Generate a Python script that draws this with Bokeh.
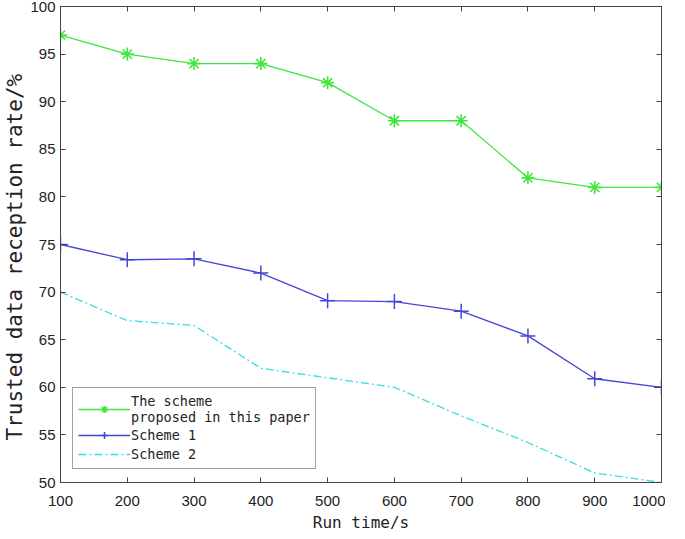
from bokeh.plotting import figure
from bokeh.models import LinearAxis, Legend, LegendItem, Range1d, FixedTicker
from bokeh.embed import file_html
from bokeh.resources import INLINE

run_time = [100, 200, 300, 400, 500, 600, 700, 800, 900, 1000]
proposed = [97, 95, 94, 94, 92, 88, 88, 82, 81, 81]
scheme1 = [75, 73.4, 73.5, 72, 69.1, 69, 68, 65.4, 60.9, 60]
scheme2 = [70, 67, 66.5, 62, 61, 60, 57, 54.2, 51, 50]
x_ticks = [100, 200, 300, 400, 500, 600, 700, 800, 900, 1000]
y_ticks = [50, 55, 60, 65, 70, 75, 80, 85, 90, 95, 100]

GREEN = "#3ee63e"
BLUE = "#4646d6"
CYAN = "#40dbe0"
MONO = "DejaVu Sans Mono"
SANS = "Liberation Sans"

p = figure(frame_width=601, frame_height=476, output_backend="svg", toolbar_location=None,
           x_range=Range1d(100, 1000), y_range=Range1d(50, 100),
           min_border_left=55, min_border_right=4, min_border_top=6, min_border_bottom=46)
p.background_fill_color = "white"
p.border_fill_color = "white"
p.outline_line_color = "#444444"
p.outline_line_width = 1
p.xgrid.visible = False
p.ygrid.visible = False

for ax in (p.xaxis[0], p.yaxis[0]):
    ax.major_tick_in = 5
    ax.major_tick_out = 0
    ax.minor_tick_in = 0
    ax.minor_tick_out = 0
    ax.axis_line_color = "#444444"
    ax.major_tick_line_color = "#444444"
    ax.major_label_text_font = SANS
    ax.major_label_text_font_size = "15px"
    ax.major_label_text_color = "#222222"
    ax.axis_label_text_font = MONO
    ax.axis_label_text_font_style = "normal"
    ax.axis_label_text_color = "#222222"

p.xaxis[0].ticker = FixedTicker(ticks=x_ticks)
p.yaxis[0].ticker = FixedTicker(ticks=y_ticks)
p.xaxis[0].axis_label = "Run time/s"
p.xaxis[0].axis_label_text_font_size = "16px"
p.xaxis[0].axis_label_standoff = 4
p.xaxis[0].major_label_standoff = 13
p.yaxis[0].axis_label = "Trusted data reception rate/%" + "\u00a0" * 2
p.yaxis[0].axis_label_text_font_size = "21px"
p.yaxis[0].axis_label_standoff = 0
p.yaxis[0].major_label_standoff = 5

blank_x = {t: "" for t in x_ticks}
blank_y = {t: "" for t in y_ticks}
top = LinearAxis(ticker=FixedTicker(ticks=x_ticks), major_label_overrides=blank_x,
                 major_tick_in=5, major_tick_out=0, minor_tick_in=0, minor_tick_out=0,
                 axis_line_color="#444444", major_tick_line_color="#444444",
                 major_label_standoff=0)
right = LinearAxis(ticker=FixedTicker(ticks=y_ticks), major_label_overrides=blank_y,
                   major_tick_in=5, major_tick_out=0, minor_tick_in=0, minor_tick_out=0,
                   axis_line_color="#444444", major_tick_line_color="#444444",
                   major_label_standoff=0)
p.add_layout(top, "above")
p.add_layout(right, "right")

l1 = p.line(run_time, proposed, line_color=GREEN, line_width=1.3)
m1 = p.scatter(run_time, proposed, marker="asterisk", size=13, line_color=GREEN, line_width=1.6)
l2 = p.line(run_time, scheme1, line_color=BLUE, line_width=1.3)
m2 = p.scatter(run_time, scheme1, marker="cross", size=15, line_color=BLUE, line_width=1.5)
l3 = p.line(run_time, scheme2, line_color=CYAN, line_width=1.3, line_dash="8 3 2 3")

legend = Legend(items=[
    LegendItem(label="The scheme\nproposed in this paper", renderers=[l1, m1]),
    LegendItem(label="Scheme 1", renderers=[l2, m2]),
    LegendItem(label="Scheme 2", renderers=[l3]),
], location=(12, 13))
legend.label_text_font = MONO
legend.label_text_font_size = "13.5px"
legend.label_text_color = "#222222"
legend.label_height = 18
legend.label_standoff = 1
legend.glyph_width = 52
legend.glyph_height = 18
legend.spacing = 1
legend.padding = 5
legend.margin = 0
legend.border_line_color = "#444444"
legend.border_line_width = 1
legend.background_fill_alpha = 1
p.add_layout(legend, "center")

open("out.html", "w").write(file_html(p, INLINE))
